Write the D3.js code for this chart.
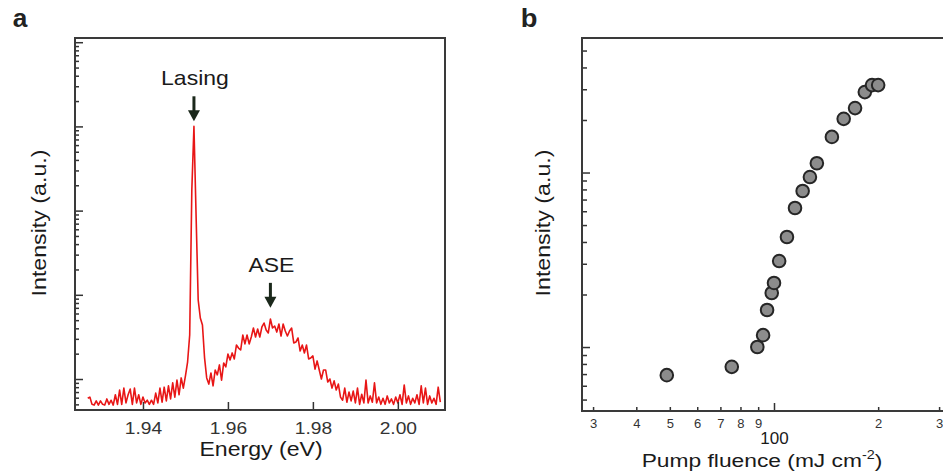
<!DOCTYPE html>
<html>
<head>
<meta charset="utf-8">
<script src="https://cdn.jsdelivr.net/npm/d3@7"></script>
<style>
  body { margin: 0; background: #fff; }
  svg { display: block; font-family: "Liberation Sans", Arial, sans-serif; }
</style>
</head>
<body>
<div id="chart"></div>
<script>
// panel a: emission spectrum (energy in eV, intensity in a.u., log)
var energy = [
  1.9270, 1.9275, 1.9280, 1.9285, 1.9290, 1.9295, 1.9300, 1.9305, 1.9310, 1.9315,
  1.9320, 1.9325, 1.9330, 1.9335, 1.9340, 1.9345, 1.9350, 1.9355, 1.9360, 1.9365,
  1.9370, 1.9375, 1.9380, 1.9385, 1.9390, 1.9395, 1.9400, 1.9405, 1.9410, 1.9415,
  1.9420, 1.9425, 1.9430, 1.9435, 1.9440, 1.9445, 1.9450, 1.9455, 1.9460, 1.9465,
  1.9470, 1.9475, 1.9480, 1.9485, 1.9490, 1.9495, 1.9500, 1.9505, 1.9510, 1.9515,
  1.9520, 1.9525, 1.9530, 1.9535, 1.9540, 1.9545, 1.9550, 1.9555, 1.9560, 1.9565,
  1.9570, 1.9575, 1.9580, 1.9585, 1.9590, 1.9595, 1.9600, 1.9605, 1.9610, 1.9615,
  1.9620, 1.9625, 1.9630, 1.9635, 1.9640, 1.9645, 1.9650, 1.9655, 1.9660, 1.9665,
  1.9670, 1.9675, 1.9680, 1.9685, 1.9690, 1.9695, 1.9700, 1.9705, 1.9710, 1.9715,
  1.9720, 1.9725, 1.9730, 1.9735, 1.9740, 1.9745, 1.9750, 1.9755, 1.9760, 1.9765,
  1.9770, 1.9775, 1.9780, 1.9785, 1.9790, 1.9795, 1.9800, 1.9805, 1.9810, 1.9815,
  1.9820, 1.9825, 1.9830, 1.9835, 1.9840, 1.9845, 1.9850, 1.9855, 1.9860, 1.9865,
  1.9870, 1.9875, 1.9880, 1.9885, 1.9890, 1.9895, 1.9900, 1.9905, 1.9910, 1.9915,
  1.9920, 1.9925, 1.9930, 1.9935, 1.9940, 1.9945, 1.9950, 1.9955, 1.9960, 1.9965,
  1.9970, 1.9975, 1.9980, 1.9985, 1.9990, 1.9995, 2.0000, 2.0005, 2.0010, 2.0015,
  2.0020, 2.0025, 2.0030, 2.0035, 2.0040, 2.0045, 2.0050, 2.0055, 2.0060, 2.0065,
  2.0070, 2.0075, 2.0080, 2.0085, 2.0090, 2.0095, 2.0100
];
var intensity = [
  0.59, 0.61, 0.50, 0.49, 0.55, 0.49, 0.55, 0.50, 0.49, 0.58,
  0.50, 0.56, 0.49, 0.65, 0.50, 0.74, 0.50, 0.78, 0.52, 0.65,
  0.76, 0.50, 0.78, 0.52, 0.65, 0.50, 0.61, 0.52, 0.56, 0.50,
  0.56, 0.50, 0.68, 0.52, 0.78, 0.53, 0.80, 0.55, 0.83, 0.58,
  0.90, 0.61, 0.97, 0.65, 1.03, 0.78, 1.09, 1.59, 3.33, 176,
  1000, 88.7, 8.67, 5.30, 4.38, 1.78, 1.03, 0.87, 1.18, 0.83,
  1.28, 1.12, 1.47, 0.97, 1.55, 1.39, 1.98, 1.68, 2.04, 1.73,
  2.53, 2.33, 2.21, 3.33, 2.61, 3.33, 2.61, 3.15, 4.03, 3.15,
  3.92, 3.15, 4.15, 4.62, 3.82, 3.52, 5.16, 4.03, 4.26, 3.61,
  4.50, 3.24, 4.50, 3.72, 3.24, 3.72, 4.03, 2.68, 2.75, 3.07,
  2.15, 2.53, 2.04, 2.53, 1.73, 1.78, 1.88, 1.31, 1.64, 1.28,
  1.00, 1.28, 1.28, 0.92, 1.00, 0.78, 0.95, 0.74, 0.87, 0.61,
  0.56, 0.78, 0.53, 0.70, 0.55, 0.72, 0.52, 0.78, 0.50, 0.66,
  0.52, 0.97, 0.52, 0.63, 0.53, 0.90, 0.52, 0.61, 0.50, 0.59,
  0.50, 0.63, 0.52, 0.58, 0.50, 0.61, 0.52, 0.65, 0.50, 0.85,
  0.52, 0.63, 0.50, 0.59, 0.52, 0.65, 0.50, 0.83, 0.52, 0.78,
  0.50, 0.63, 0.52, 0.59, 0.50, 0.80, 0.53
];
var energyTicks = [1.94, 1.96, 1.98, 2.00];
var annoLabels = ["Lasing", "ASE"];
var annoEnergy = [1.952, 1.970];
var annoLevel = [1150, 7.0];

// panel b: output intensity vs pump fluence (log-log)
var fluence = [49, 75.5, 89.5, 93, 95.5, 98.5, 100, 103.5, 109, 115, 121, 127, 133, 147, 159, 171.5, 183, 192, 200];
var outIntensity = [0.69, 0.77, 1.0, 1.17, 1.63, 2.04, 2.33, 3.11, 4.27, 6.26, 7.84, 9.42, 11.3, 16.0, 20.3, 23.4, 28.9, 31.7, 31.7];
var fluenceTicks = [30, 40, 50, 60, 70, 80, 90, 100, 200, 300];
var fluenceTickLabels = ["3", "4", "5", "6", "7", "8", "9", "100", "2", "3"];

var W = 943, H = 473;
var ink = "#1a1a1a", axisCol = "#333";

var svg = d3.select("#chart").append("svg")
    .attr("width", W)
    .attr("height", H);
svg.append("rect").attr("width", W).attr("height", H).attr("fill", "#fff");

// the source figure is stretched sideways a little, text included
function label(x, y, str, size, sx, rot) {
  return svg.append("text")
      .attr("transform", "translate(" + x + "," + y + ")" + (rot ? " rotate(" + rot + ")" : "") + " scale(" + sx + ",1)")
      .attr("text-anchor", "middle")
      .attr("font-size", size)
      .attr("fill", ink)
      .text(str);
}

function isMajor(d) {
  var l = Math.log10(d);
  return Math.abs(l - Math.round(l)) < 1e-6;
}

// ---------- panel a ----------
var xA = d3.scaleLinear().domain([1.924, 2.0111]).range([75, 445]);
var yA = d3.scaleLog().domain([0.4285, 11220]).range([410, 38]);

svg.append("clipPath").attr("id", "clipA")
  .append("rect").attr("x", 75).attr("y", 38).attr("width", 370).attr("height", 372);

var line = d3.line()
    .x(function(d, i) { return xA(energy[i]); })
    .y(function(d) { return yA(d); });

svg.append("path")
    .datum(intensity)
    .attr("clip-path", "url(#clipA)")
    .attr("d", line)
    .attr("fill", "none")
    .attr("stroke", "#e81616")
    .attr("stroke-width", 1.6)
    .attr("stroke-linejoin", "round");

var yAxisA = svg.append("g")
    .attr("transform", "translate(75,0)")
    .call(d3.axisRight(yA).tickSizeOuter(0).tickFormat(""));
yAxisA.select(".domain").remove();
yAxisA.selectAll(".tick line")
    .attr("x2", function(d) { return isMajor(d) ? 8 : 4; })
    .attr("stroke", axisCol).attr("stroke-width", 1.5);

var xAxisA = svg.append("g")
    .attr("transform", "translate(0,410)")
    .call(d3.axisTop(xA).tickValues(energyTicks).tickSizeOuter(0).tickSize(8).tickFormat(d3.format(".2f")));
xAxisA.select(".domain").remove();
xAxisA.selectAll(".tick line").attr("stroke", axisCol).attr("stroke-width", 1.5);
xAxisA.selectAll(".tick text")
    .attr("y", 24).attr("dy", 0)
    .attr("font-size", 16)
    .attr("font-family", "Liberation Sans, Arial, sans-serif")
    .attr("fill", "#333")
    .attr("transform", "scale(1.2,1)");

svg.append("rect")
    .attr("x", 75).attr("y", 38).attr("width", 370).attr("height", 372)
    .attr("fill", "none").attr("stroke", "#3a3a3a").attr("stroke-width", 2);

annoLabels.forEach(function(t, i) {
  var x = xA(annoEnergy[i]);
  var tip = yA(annoLevel[i]);
  svg.append("line")
      .attr("x1", x).attr("x2", x)
      .attr("y1", tip - 25).attr("y2", tip - 8)
      .attr("stroke", "#1b281b").attr("stroke-width", 3);
  svg.append("path")
      .attr("d", "M" + (x - 6) + "," + (tip - 11) + "L" + (x + 6) + "," + (tip - 11) + "L" + x + "," + tip + "Z")
      .attr("fill", "#1b281b");
  label(x + 1, tip - 36, t, 20, 1.15);
});

label(20, 27, "a", 25, 1.05).attr("font-weight", "bold").attr("fill", "#222");
label(261, 456, "Energy (eV)", 21, 1.1);
label(46, 223, "Intensity (a.u.)", 20, 1.16, -90);

// ---------- panel b ----------
var xB = d3.scaleLog().domain([27.87, 326.9]).range([582, 952]);
var yB = d3.scaleLog().domain([0.43, 59.0]).range([411, 38]);

var yAxisB = svg.append("g")
    .attr("transform", "translate(582,0)")
    .call(d3.axisRight(yB).tickSizeOuter(0).tickFormat(""));
yAxisB.select(".domain").remove();
yAxisB.selectAll(".tick line")
    .attr("x2", function(d) { return isMajor(d) ? 8 : 5; })
    .attr("stroke", axisCol).attr("stroke-width", 1.5);

var xAxisB = svg.append("g")
    .attr("transform", "translate(0,411)")
    .call(d3.axisTop(xB).tickValues(fluenceTicks).tickSizeOuter(0)
      .tickFormat(function(d, i) { return fluenceTickLabels[i]; }));
xAxisB.select(".domain").remove();
xAxisB.selectAll(".tick line")
    .attr("y2", function(d) { return isMajor(d) ? -8 : -4; })
    .attr("stroke", axisCol).attr("stroke-width", 1.5);
xAxisB.selectAll(".tick text")
    .attr("y", function(d) { return isMajor(d) ? 33 : 17; })
    .attr("dy", 0)
    .attr("font-size", function(d) { return isMajor(d) ? 17 : 13; })
    .attr("font-family", "Liberation Sans, Arial, sans-serif")
    .attr("fill", function(d) { return isMajor(d) ? ink : "#333"; });

svg.append("rect")
    .attr("x", 582).attr("y", 38).attr("width", 370).attr("height", 373)
    .attr("fill", "none").attr("stroke", "#3a3a3a").attr("stroke-width", 2);

svg.append("g").selectAll("circle")
    .data(fluence)
  .enter().append("circle")
    .attr("cx", function(d) { return xB(d); })
    .attr("cy", function(d, i) { return yB(outIntensity[i]); })
    .attr("r", 6.3)
    .attr("fill", "#8c8c8c")
    .attr("stroke", "#262626")
    .attr("stroke-width", 2);

label(529, 27, "b", 26, 1.05).attr("font-weight", "bold").attr("fill", "#222");
label(550, 223, "Intensity (a.u.)", 20, 1.16, -90);

var tB = label(762, 467, "Pump fluence (mJ cm", 19, 1.2);
tB.append("tspan").attr("font-size", 12).attr("dy", -8).text("-2");
tB.append("tspan").attr("dy", 8).text(")");
</script>
</body>
</html>
